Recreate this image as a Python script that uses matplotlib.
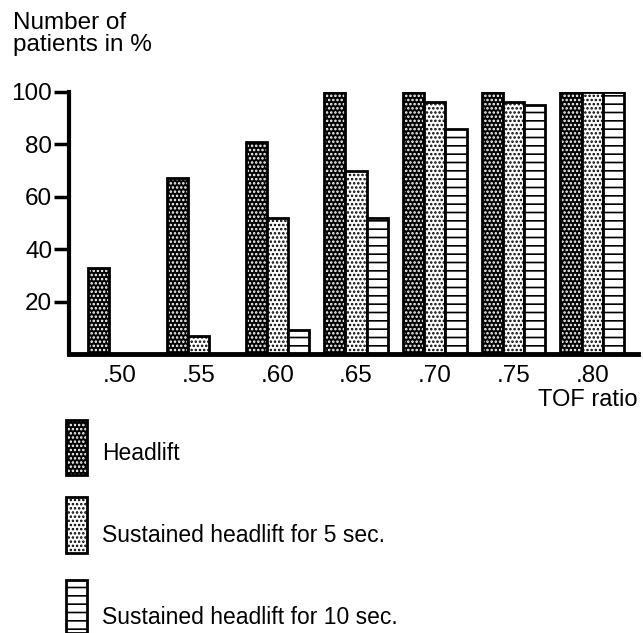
import matplotlib.pyplot as plt
import matplotlib.patches as mpatches
import numpy as np

plt.rcParams['font.family'] = ['Liberation Sans', 'DejaVu Sans']
plt.rcParams['hatch.linewidth'] = 1.2

# TOF ratio groups and % of patients per test
tof_labels = ['.50', '.55', '.60', '.65', '.70', '.75', '.80']
headlift = [33, 67, 81, 100, 100, 100, 100]
sustained_5 = [0, 7, 52, 70, 96, 96, 100]
sustained_10 = [0, 0, 9, 52, 86, 95, 100]
y_ticks = [20, 40, 60, 80, 100]
legend_labels = ['Headlift', 'Sustained headlift for 5 sec.', 'Sustained headlift for 10 sec.']

W, H = 643, 633
fig = plt.figure(figsize=(W / 100, H / 100), dpi=100)

# axes placed in pixel units of the reference
left_px, right_px, top_px, bottom_px = 69, 638, 92, 354
ax = fig.add_axes([left_px / W, 1 - bottom_px / H,
                   (right_px - left_px) / W, (bottom_px - top_px) / H])

x = np.arange(len(tof_labels))
bw = 0.27
lw = 2.0

# fill styles: (face, hatch colour, hatch)
fills = {
    'dark': ('black', 'white', '....'),
    'light': ('white', 'black', '....'),
    'lines': ('white', 'black', '--'),
}


def draw_bars(xs, vals, style):
    vals = np.array(vals, dtype=float)
    mask = vals > 0
    xs, vals = xs[mask], vals[mask]
    fc, hc, hatch = fills[style]
    ax.bar(xs, vals, bw, color=fc, edgecolor=hc, hatch=hatch, linewidth=0)
    ax.bar(xs, vals, bw, facecolor='none', edgecolor='black', linewidth=lw)


draw_bars(x - bw, headlift, 'dark')
draw_bars(x, sustained_5, 'light')
draw_bars(x + bw, sustained_10, 'lines')

ax.set_xlim((left_px - 120) / 78.7, (right_px - 120) / 78.7)
ax.set_ylim(0, 100)
ax.set_xticks(x)
ax.set_xticklabels(tof_labels, fontsize=17.5)
ax.tick_params(axis='x', length=0, pad=8)
ax.set_yticks(y_ticks)
ax.set_yticklabels([str(v) for v in y_ticks], fontsize=17.5)
ax.tick_params(axis='y', length=11, width=2.5, pad=1)

for s in ['top', 'right']:
    ax.spines[s].set_visible(False)
ax.spines['left'].set_linewidth(3)
ax.spines['bottom'].set_linewidth(3.5)
ax.spines['left'].set_capstyle('projecting')
ax.spines['bottom'].set_capstyle('projecting')

fig.text(13 / W, 1 - 12 / H, 'Number of\npatients in %', fontsize=17.5,
         ha='left', va='top', linespacing=1.0)
fig.text(638 / W, 1 - 400 / H, 'TOF ratio', fontsize=17, ha='right', va='center')

# legend, drawn by hand
leg_boxes = [(420, 475), (497, 553), (580, 633)]
leg_text_y = [453, 535, 618]
styles = ['dark', 'light', 'lines']
for (t, b), ty, lab, st in zip(leg_boxes, leg_text_y, legend_labels, styles):
    xy = (66 / W, 1 - b / H)
    w, h = 21 / W, (b - t) / H
    fc, hc, hatch = fills[st]
    fig.patches.append(mpatches.Rectangle(xy, w, h, transform=fig.transFigure, facecolor=fc,
                                          edgecolor=hc, hatch=hatch, linewidth=0))
    fig.patches.append(mpatches.Rectangle(xy, w, h, transform=fig.transFigure,
                                          facecolor='none', edgecolor='black', linewidth=lw))
    fig.text(102 / W, 1 - ty / H, lab, fontsize=16.5, ha='left', va='center')

fig.savefig('out.png', dpi=100)
